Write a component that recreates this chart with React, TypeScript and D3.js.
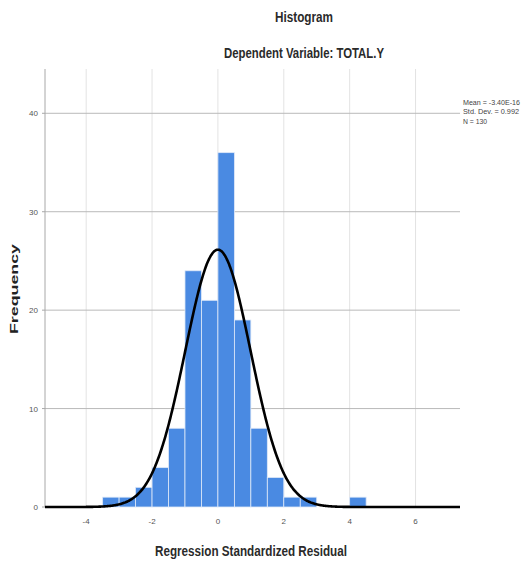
import React from 'react';
import * as d3 from 'd3';

// histogram bins (lower edge, upper edge, count)
const binStarts = [-3.5, -3.0, -2.5, -2.0, -1.5, -1.0, -0.5, 0.0, 0.5, 1.0, 1.5, 2.0, 2.5, 4.0];
const binWidth = 0.5;
const binCounts = [1, 1, 2, 4, 8, 24, 21, 36, 19, 8, 3, 1, 1, 1];

const xTicks = [-4, -2, 0, 2, 4, 6];
const yTicks = [0, 10, 20, 30, 40];

// fitted normal curve parameters
const fitMean = -3.40e-16;
const fitSd = 0.992;
const fitN = 130;
const legendLines = ['Mean = -3.40E-16', 'Std. Dev. = 0.992', 'N = 130'];
const legendWidths = [57, 56, 24];

const W = 526;
const H = 564;
const left = 45;
const right = 460;
const top = 69;
const bottom = 507;

const App: React.FC = () => {
  const x = d3.scaleLinear().domain([-5.25, 7.35]).range([left, right]);
  const y = d3.scaleLinear().domain([0, 44.5]).range([bottom, top]);

  const bars = binStarts.map((s, i) => ({ x0: s, x1: s + binWidth, n: binCounts[i] }));

  // normal density scaled to counts
  const [d0, d1] = x.domain();
  const curvePts: [number, number][] = d3.range(d0, d1 + 0.001, 0.02).map(v => {
    const z = (v - fitMean) / fitSd;
    const f = (fitN * binWidth) / (fitSd * Math.sqrt(2 * Math.PI)) * Math.exp(-0.5 * z * z);
    return [v, f];
  });
  const line = d3.line<[number, number]>()
    .x(d => x(d[0]))
    .y(d => Math.min(y(d[1]), bottom))
    .curve(d3.curveBasis);

  const font = "'Liberation Sans', Arial, sans-serif";

  return (
    <svg width={W} height={H} style={{ position: 'absolute', left: 0, top: 0, background: '#fff' }}>
      {/* vertical grid */}
      {xTicks.map(t => (
        <line key={'vx' + t} x1={x(t)} x2={x(t)} y1={top} y2={bottom} stroke="#e3e3e3" strokeWidth={1} />
      ))}
      {/* horizontal grid */}
      {yTicks.filter(t => t > 0).map(t => (
        <line key={'hy' + t} x1={left} x2={right} y1={y(t)} y2={y(t)} stroke="#b9b9b9" strokeWidth={1} />
      ))}
      {/* y axis */}
      <line x1={left} x2={left} y1={top} y2={bottom} stroke="#a8a8a8" strokeWidth={1} />
      {yTicks.map(t => (
        <g key={'yt' + t}>
          <line x1={left - 3} x2={left} y1={y(t)} y2={y(t)} stroke="#a8a8a8" />
          <text x={left - 7} y={y(t) + 3} textAnchor="end" fontSize={8} fill="#555" fontFamily={font}>{t}</text>
        </g>
      ))}
      {/* bars */}
      {bars.map((b, i) => (
        <rect key={'b' + i} x={x(b.x0)} width={x(b.x1) - x(b.x0)} y={y(b.n)} height={bottom - y(b.n)}
          fill="#4a8ae2" stroke="#dfe9f8" strokeWidth={0.8} />
      ))}
      {/* normal curve */}
      <path d={line(curvePts) || ''} fill="none" stroke="#000" strokeWidth={2.6} />
      {/* x tick labels */}
      {xTicks.map(t => (
        <text key={'xt' + t} x={x(t)} y={bottom + 17} textAnchor="middle" fontSize={8} fill="#555" fontFamily={font}>{t}</text>
      ))}
      {/* titles */}
      <text x={304} y={22} textAnchor="middle" fontSize={14} fontWeight="bold" fill="#2a2a2a" fontFamily={font}
        textLength={58} lengthAdjust="spacingAndGlyphs">Histogram</text>
      <text x={304} y={58} textAnchor="middle" fontSize={14} fontWeight="bold" fill="#2a2a2a" fontFamily={font}
        textLength={160} lengthAdjust="spacingAndGlyphs">Dependent Variable: TOTAL.Y</text>
      <text x={251} y={556} textAnchor="middle" fontSize={14} fontWeight="bold" fill="#2a2a2a" fontFamily={font}
        textLength={192} lengthAdjust="spacingAndGlyphs">Regression Standardized Residual</text>
      <text transform={`translate(18, ${289}) rotate(-90)`} textAnchor="middle" fontSize={11} fontWeight="bold"
        fill="#222" fontFamily={font} textLength={90} lengthAdjust="spacingAndGlyphs">Frequency</text>
      {/* legend */}
      {legendLines.map((s, i) => (
        <text key={'lg' + i} x={463} y={104.5 + i * 9.5} fontSize={8} fill="#444" fontFamily={font}
          textLength={legendWidths[i]} lengthAdjust="spacingAndGlyphs">{s}</text>
      ))}
    </svg>
  );
};

export default App;
